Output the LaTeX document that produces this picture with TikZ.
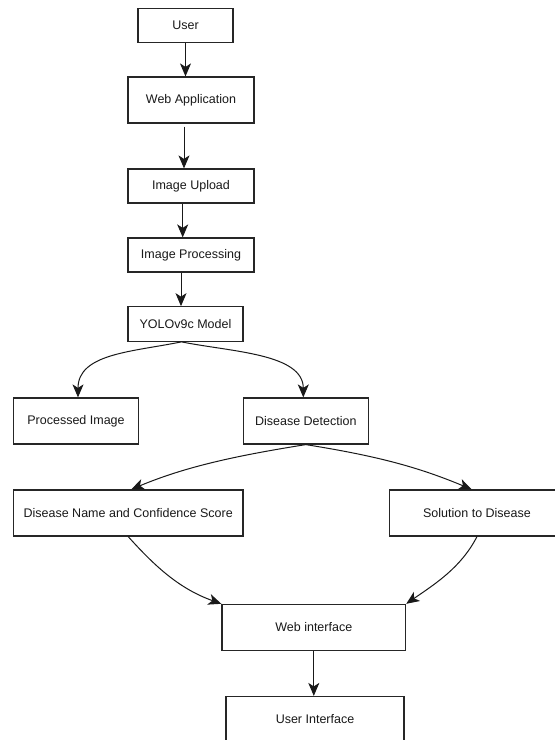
\documentclass[tikz,border=0pt]{standalone}
\usepackage{fontspec}
\setmainfont{Liberation Sans}
\usepackage{tikz}
\usetikzlibrary{arrows.meta}

\begin{document}
\begin{tikzpicture}[x=1pt,y=-1pt,
	stagebox/.style={draw=black!85,line width=1.2pt,fill=white,text=black!90,font=\fontsize{12.5}{15}\selectfont,inner sep=0pt,minimum height=46pt},
	>={Stealth[length=13pt,width=11pt,inset=3.5pt]},
	flow/.style={->,line width=1pt,draw=black!90}]
	\useasboundingbox[fill=white] (0,0) rectangle (555,740);
	\node[stagebox,minimum width=95pt,minimum height=34.5pt] (user) at (185.5,25.5) {User};
	\node[stagebox,minimum width=126pt] (webapp) at (191,100) {Web Application};
	\node[stagebox,minimum width=126pt,minimum height=34pt] (upload) at (191,186) {Image Upload};
	\node[stagebox,minimum width=126pt,minimum height=34pt] (processing) at (191,255) {Image Processing};
	\node[stagebox,minimum width=115pt,minimum height=34.5pt] (yolo) at (185.5,324) {YOLOv9c Model};
	\node[stagebox,minimum width=125pt] (processed) at (76,421) {Processed Image};
	\node[stagebox,minimum width=125pt] (detection) at (305.8,421) {Disease Detection};
	\node[stagebox,minimum width=229.5pt] (score) at (128.2,513) {Disease Name and Confidence Score};
	\node[stagebox,minimum width=175pt] (solution) at (477,513) {Solution to Disease};
	\node[stagebox,minimum width=183.7pt] (webif) at (313.8,627.4) {Web interface};
	\node[stagebox,minimum width=178pt] (userif) at (315,719.5) {User Interface};

	\draw[flow] (user.south) -- (user.south |- webapp.north);
	\draw[flow] ([xshift=-7pt,yshift=-3pt]webapp.south) -- ([xshift=-7pt]upload.north);
	\draw[flow] ([xshift=-8.3pt]upload.south) -- ([xshift=-8.3pt]processing.north);
	\draw[flow] ([xshift=-10pt]processing.south) -- ([xshift=-10pt]processing.south |- yolo.north);
	\draw[flow] ([xshift=-4pt]yolo.south) .. controls +(-49,10) and +(0,-44) .. ([xshift=2pt]processed.north);
	\draw[flow] ([xshift=-4pt]yolo.south) .. controls +(49,10) and +(0,-44) .. ([xshift=-2.5pt]detection.north);
	\draw[flow] (detection.south) .. controls +(-69,11) and +(55,-23) .. ([xshift=3pt]score.north);
	\draw[flow] (detection.south) .. controls +(69,11) and +(-55,-23) .. ([xshift=-5.3pt]solution.north);
	\draw[flow] (score.south) .. controls +(27,30) and +(-42,-15) .. (webif.north west);
	\draw[flow] (solution.south) .. controls +(-16,31) and +(29,-20) .. (webif.north east);
	\draw[flow] (webif.south) -- (webif.south |- userif.north);
\end{tikzpicture}
\end{document}
